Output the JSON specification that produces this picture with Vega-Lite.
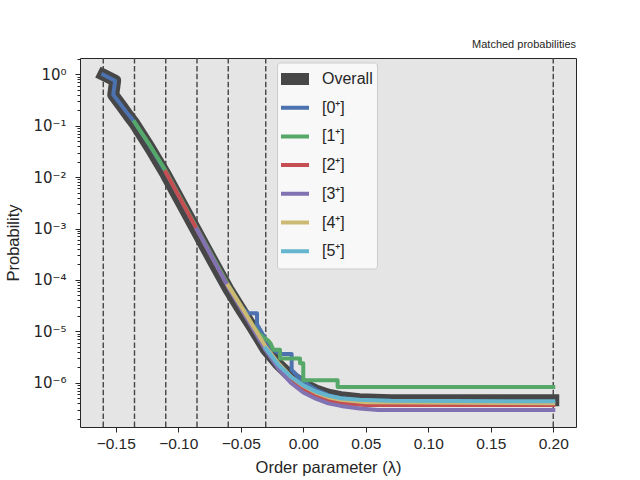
{
  "$schema": "https://vega.github.io/schema/vega-lite/v6.json",
  "width": 496,
  "height": 369,
  "autosize": "none",
  "padding": {"left": 80, "top": 58, "right": 64, "bottom": 53},
  "background": "white",
  "title": {"text": "Matched probabilities", "anchor": "end", "frame": "group", "fontSize": 11, "font": "Liberation Sans", "fontWeight": "normal", "color": "#262626", "offset": 2},
  "config": {
    "view": {"fill": "#e5e5e5", "stroke": "#262626", "strokeWidth": 1},
    "axis": {"domain": false, "grid": false, "ticks": true, "tickColor": "#262626", "tickSize": 5, "tickWidth": 1, "labelColor": "#262626", "titleColor": "#262626", "titleFont": "Liberation Sans", "titleFontSize": 16.5, "titleFontWeight": "normal"},
    "legend": {"orient": "none", "legendX": 197, "legendY": 4.5, "title": null, "symbolType": "stroke", "symbolSize": 841, "symbolOffset": -7, "clipHeight": 25, "labelFont": "Liberation Sans", "labelFontSize": 16, "labelColor": "#262626", "labelOffset": 7, "fillColor": "#f8f8f8", "strokeColor": "#cccccc", "cornerRadius": 3, "padding": 4, "rowPadding": 3.7}
  },
  "datasets": {
    "vlines": [{"x": -0.16}, {"x": -0.135}, {"x": -0.11}, {"x": -0.085}, {"x": -0.06}, {"x": -0.03}, {"x": 0.2}],
    "curves": [
      {"s": "Overall", "i": 0, "x": -0.16, "p": 0.9795},
      {"s": "Overall", "i": 1, "x": -0.1505, "p": 0.7499},
      {"s": "Overall", "i": 2, "x": -0.152, "p": 0.3981},
      {"s": "Overall", "i": 3, "x": -0.145, "p": 0.2344},
      {"s": "Overall", "i": 4, "x": -0.14, "p": 0.1585},
      {"s": "Overall", "i": 5, "x": -0.135, "p": 0.1096},
      {"s": "Overall", "i": 6, "x": -0.1225, "p": 0.03631},
      {"s": "Overall", "i": 7, "x": -0.11, "p": 0.01122},
      {"s": "Overall", "i": 8, "x": -0.0975, "p": 0.00309},
      {"s": "Overall", "i": 9, "x": -0.085, "p": 0.0008511},
      {"s": "Overall", "i": 10, "x": -0.0725, "p": 0.0002344},
      {"s": "Overall", "i": 11, "x": -0.06, "p": 6.607e-5},
      {"s": "Overall", "i": 12, "x": -0.05, "p": 2.692e-5},
      {"s": "Overall", "i": 13, "x": -0.04, "p": 1.122e-5},
      {"s": "Overall", "i": 14, "x": -0.03, "p": 4.467e-6},
      {"s": "Overall", "i": 15, "x": -0.02, "p": 2.291e-6},
      {"s": "Overall", "i": 16, "x": -0.01, "p": 1.349e-6},
      {"s": "Overall", "i": 17, "x": 0.0, "p": 9.333e-7},
      {"s": "Overall", "i": 18, "x": 0.01, "p": 7.079e-7},
      {"s": "Overall", "i": 19, "x": 0.02, "p": 5.888e-7},
      {"s": "Overall", "i": 20, "x": 0.03, "p": 5.248e-7},
      {"s": "Overall", "i": 21, "x": 0.045, "p": 4.786e-7},
      {"s": "Overall", "i": 22, "x": 0.07, "p": 4.571e-7},
      {"s": "Overall", "i": 23, "x": 0.2, "p": 4.571e-7},

      {"s": "[0⁺]", "i": 0, "x": -0.16, "p": 0.9795},
      {"s": "[0⁺]", "i": 1, "x": -0.1505, "p": 0.7499},
      {"s": "[0⁺]", "i": 2, "x": -0.152, "p": 0.3981},
      {"s": "[0⁺]", "i": 3, "x": -0.145, "p": 0.2399},
      {"s": "[0⁺]", "i": 4, "x": -0.14, "p": 0.166},
      {"s": "[0⁺]", "i": 5, "x": -0.135, "p": 0.1175},
      {"s": "[0⁺]", "i": 6, "x": -0.1225, "p": 0.03981},
      {"s": "[0⁺]", "i": 7, "x": -0.11, "p": 0.01259},
      {"s": "[0⁺]", "i": 8, "x": -0.0975, "p": 0.003467},
      {"s": "[0⁺]", "i": 9, "x": -0.085, "p": 0.000955},
      {"s": "[0⁺]", "i": 10, "x": -0.0725, "p": 0.000263},
      {"s": "[0⁺]", "i": 11, "x": -0.06, "p": 7.413e-5},
      {"s": "[0⁺]", "i": 12, "x": -0.05, "p": 3.02e-5},
      {"s": "[0⁺]", "i": 13, "x": -0.044, "p": 2.239e-5},
      {"s": "[0⁺]", "i": 14, "x": -0.037, "p": 2.239e-5},
      {"s": "[0⁺]", "i": 15, "x": -0.037, "p": 1.38e-5},
      {"s": "[0⁺]", "i": 16, "x": -0.03, "p": 6.918e-6},
      {"s": "[0⁺]", "i": 17, "x": -0.024, "p": 4.365e-6},
      {"s": "[0⁺]", "i": 18, "x": -0.0186, "p": 3.631e-6},
      {"s": "[0⁺]", "i": 19, "x": -0.0093, "p": 3.631e-6},
      {"s": "[0⁺]", "i": 20, "x": -0.0093, "p": 1.778e-6},
      {"s": "[0⁺]", "i": 21, "x": 0.0, "p": 1.047e-6},
      {"s": "[0⁺]", "i": 22, "x": 0.01, "p": 7.413e-7},
      {"s": "[0⁺]", "i": 23, "x": 0.02, "p": 5.754e-7},
      {"s": "[0⁺]", "i": 24, "x": 0.03, "p": 5.012e-7},
      {"s": "[0⁺]", "i": 25, "x": 0.05, "p": 4.365e-7},
      {"s": "[0⁺]", "i": 26, "x": 0.2, "p": 4.169e-7},

      {"s": "[1⁺]", "i": 0, "x": -0.135, "p": 0.1175},
      {"s": "[1⁺]", "i": 1, "x": -0.1225, "p": 0.04074},
      {"s": "[1⁺]", "i": 2, "x": -0.11, "p": 0.01318},
      {"s": "[1⁺]", "i": 3, "x": -0.0975, "p": 0.003631},
      {"s": "[1⁺]", "i": 4, "x": -0.085, "p": 0.001},
      {"s": "[1⁺]", "i": 5, "x": -0.0725, "p": 0.0002818},
      {"s": "[1⁺]", "i": 6, "x": -0.06, "p": 7.943e-5},
      {"s": "[1⁺]", "i": 7, "x": -0.05, "p": 3.162e-5},
      {"s": "[1⁺]", "i": 8, "x": -0.041, "p": 1.38e-5},
      {"s": "[1⁺]", "i": 9, "x": -0.035, "p": 8.913e-6},
      {"s": "[1⁺]", "i": 10, "x": -0.032, "p": 7.762e-6},
      {"s": "[1⁺]", "i": 11, "x": -0.028, "p": 6.607e-6},
      {"s": "[1⁺]", "i": 12, "x": -0.026, "p": 5.754e-6},
      {"s": "[1⁺]", "i": 13, "x": -0.024, "p": 4.365e-6},
      {"s": "[1⁺]", "i": 14, "x": -0.0186, "p": 4.365e-6},
      {"s": "[1⁺]", "i": 15, "x": -0.0186, "p": 2.951e-6},
      {"s": "[1⁺]", "i": 16, "x": -0.0026, "p": 2.951e-6},
      {"s": "[1⁺]", "i": 17, "x": -0.0026, "p": 2.399e-6},
      {"s": "[1⁺]", "i": 18, "x": 0.0, "p": 2.399e-6},
      {"s": "[1⁺]", "i": 19, "x": 0.0, "p": 1.122e-6},
      {"s": "[1⁺]", "i": 20, "x": 0.0275, "p": 1.122e-6},
      {"s": "[1⁺]", "i": 21, "x": 0.0275, "p": 8.318e-7},
      {"s": "[1⁺]", "i": 22, "x": 0.2, "p": 8.318e-7},

      {"s": "[2⁺]", "i": 0, "x": -0.11, "p": 0.01259},
      {"s": "[2⁺]", "i": 1, "x": -0.0975, "p": 0.003467},
      {"s": "[2⁺]", "i": 2, "x": -0.085, "p": 0.000955},
      {"s": "[2⁺]", "i": 3, "x": -0.0725, "p": 0.000263},
      {"s": "[2⁺]", "i": 4, "x": -0.06, "p": 7.413e-5},
      {"s": "[2⁺]", "i": 5, "x": -0.05, "p": 2.951e-5},
      {"s": "[2⁺]", "i": 6, "x": -0.04, "p": 1.175e-5},
      {"s": "[2⁺]", "i": 7, "x": -0.03, "p": 4.571e-6},
      {"s": "[2⁺]", "i": 8, "x": -0.02, "p": 2.188e-6},
      {"s": "[2⁺]", "i": 9, "x": -0.01, "p": 1.175e-6},
      {"s": "[2⁺]", "i": 10, "x": 0.0, "p": 7.586e-7},
      {"s": "[2⁺]", "i": 11, "x": 0.01, "p": 5.495e-7},
      {"s": "[2⁺]", "i": 12, "x": 0.02, "p": 4.467e-7},
      {"s": "[2⁺]", "i": 13, "x": 0.03, "p": 3.981e-7},
      {"s": "[2⁺]", "i": 14, "x": 0.05, "p": 3.715e-7},
      {"s": "[2⁺]", "i": 15, "x": 0.2, "p": 3.715e-7},

      {"s": "[3⁺]", "i": 0, "x": -0.085, "p": 0.000955},
      {"s": "[3⁺]", "i": 1, "x": -0.0725, "p": 0.000263},
      {"s": "[3⁺]", "i": 2, "x": -0.06, "p": 7.244e-5},
      {"s": "[3⁺]", "i": 3, "x": -0.05, "p": 2.818e-5},
      {"s": "[3⁺]", "i": 4, "x": -0.04, "p": 1.096e-5},
      {"s": "[3⁺]", "i": 5, "x": -0.03, "p": 4.266e-6},
      {"s": "[3⁺]", "i": 6, "x": -0.02, "p": 1.905e-6},
      {"s": "[3⁺]", "i": 7, "x": -0.01, "p": 1.0e-6},
      {"s": "[3⁺]", "i": 8, "x": 0.0, "p": 6.457e-7},
      {"s": "[3⁺]", "i": 9, "x": 0.01, "p": 4.898e-7},
      {"s": "[3⁺]", "i": 10, "x": 0.02, "p": 3.981e-7},
      {"s": "[3⁺]", "i": 11, "x": 0.03, "p": 3.548e-7},
      {"s": "[3⁺]", "i": 12, "x": 0.045, "p": 3.162e-7},
      {"s": "[3⁺]", "i": 13, "x": 0.06, "p": 2.951e-7},
      {"s": "[3⁺]", "i": 14, "x": 0.2, "p": 2.951e-7},

      {"s": "[4⁺]", "i": 0, "x": -0.06, "p": 7.762e-5},
      {"s": "[4⁺]", "i": 1, "x": -0.05, "p": 3.162e-5},
      {"s": "[4⁺]", "i": 2, "x": -0.04, "p": 1.259e-5},
      {"s": "[4⁺]", "i": 3, "x": -0.03, "p": 5.012e-6},
      {"s": "[4⁺]", "i": 4, "x": -0.02, "p": 2.399e-6},
      {"s": "[4⁺]", "i": 5, "x": -0.01, "p": 1.318e-6},
      {"s": "[4⁺]", "i": 6, "x": 0.0, "p": 8.71e-7},
      {"s": "[4⁺]", "i": 7, "x": 0.01, "p": 6.457e-7},
      {"s": "[4⁺]", "i": 8, "x": 0.02, "p": 5.248e-7},
      {"s": "[4⁺]", "i": 9, "x": 0.03, "p": 4.677e-7},
      {"s": "[4⁺]", "i": 10, "x": 0.05, "p": 4.169e-7},
      {"s": "[4⁺]", "i": 11, "x": 0.2, "p": 3.981e-7},

      {"s": "[5⁺]", "i": 0, "x": -0.03, "p": 4.677e-6},
      {"s": "[5⁺]", "i": 1, "x": -0.02, "p": 2.239e-6},
      {"s": "[5⁺]", "i": 2, "x": -0.01, "p": 1.318e-6},
      {"s": "[5⁺]", "i": 3, "x": 0.0, "p": 8.913e-7},
      {"s": "[5⁺]", "i": 4, "x": 0.01, "p": 6.761e-7},
      {"s": "[5⁺]", "i": 5, "x": 0.02, "p": 5.623e-7},
      {"s": "[5⁺]", "i": 6, "x": 0.03, "p": 5.012e-7},
      {"s": "[5⁺]", "i": 7, "x": 0.045, "p": 4.677e-7},
      {"s": "[5⁺]", "i": 8, "x": 0.07, "p": 4.467e-7},
      {"s": "[5⁺]", "i": 9, "x": 0.2, "p": 4.365e-7}
    ]
  },
  "layer": [
    {
      "data": {"name": "vlines"},
      "mark": {"type": "rule", "color": "#444444", "strokeWidth": 1.4, "strokeDash": [5.5, 2.4]},
      "encoding": {
        "x": {
          "field": "x", "type": "quantitative",
          "scale": {"domain": [-0.1786, 0.2182], "nice": false, "zero": false},
          "axis": {"values": [-0.15, -0.1, -0.05, 0, 0.05, 0.1, 0.15, 0.2], "format": ".2f", "labelFont": "Liberation Sans", "labelFontSize": 15.5, "labelPadding": 4, "title": "Order parameter (λ)", "titlePadding": 8, "labelFlush": false}
        }
      }
    },
    {
      "data": {"name": "curves"},
      "mark": {"type": "line", "strokeCap": "square", "strokeJoin": "round"},
      "encoding": {
        "x": {"field": "x", "type": "quantitative"},
        "y": {
          "field": "p", "type": "quantitative",
          "scale": {"type": "log", "domain": [1.38e-7, 2.07], "nice": false, "zero": false},
          "axis": {
            "title": "Probability", "titlePadding": 11,
            "values": [2e-7, 3e-7, 4e-7, 5e-7, 6e-7, 7e-7, 8e-7, 9e-7, 0.000001, 2e-6, 3e-6, 4e-6, 5e-6, 6e-6, 7e-6, 8e-6, 9e-6, 0.00001, 2e-5, 3e-5, 4e-5, 5e-5, 6e-5, 7e-5, 8e-5, 9e-5, 0.0001, 0.0002, 0.0003, 0.0004, 0.0005, 0.0006, 0.0007, 0.0008, 0.0009, 0.001, 0.002, 0.003, 0.004, 0.005, 0.006, 0.007, 0.008, 0.009, 0.01, 0.02, 0.03, 0.04, 0.05, 0.06, 0.07, 0.08, 0.09, 0.1, 0.2, 0.3, 0.4, 0.5, 0.6, 0.7, 0.8, 0.9, 1, 2],
            "labelExpr": "datum.value==1?'10⁰':datum.value==0.1?'10⁻¹':datum.value==0.01?'10⁻²':datum.value==0.001?'10⁻³':datum.value==0.0001?'10⁻⁴':datum.value==0.00001?'10⁻⁵':datum.value==0.000001?'10⁻⁶':''",
            "tickSize": {"condition": {"test": "datum.value==1||datum.value==0.1||datum.value==0.01||datum.value==0.001||datum.value==0.0001||datum.value==0.00001||datum.value==0.000001", "value": 5}, "value": 3},
            "labelFont": "DejaVu Sans", "labelFontSize": 15, "labelPadding": 9, "labelOverlap": false, "labelFlush": false, "labelBound": false
          }
        },
        "order": {"field": "i", "type": "quantitative"},
        "color": {
          "field": "s", "type": "nominal",
          "scale": {"domain": ["Overall", "[0⁺]", "[1⁺]", "[2⁺]", "[3⁺]", "[4⁺]", "[5⁺]"], "range": ["#474747", "#4C72B0", "#55A868", "#C44E52", "#8172B2", "#CCB974", "#64B5CD"]}
        },
        "strokeWidth": {
          "field": "s", "type": "nominal",
          "scale": {"type": "ordinal", "domain": ["Overall", "[0⁺]", "[1⁺]", "[2⁺]", "[3⁺]", "[4⁺]", "[5⁺]"], "range": [12, 4, 4, 4, 4, 4, 4]}
        }
      }
    }
  ]
}
